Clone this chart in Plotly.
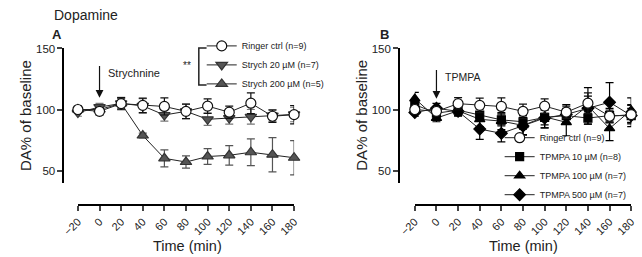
import plotly.graph_objects as go

# ---------------- data ----------------
time = [-20, 0, 20, 40, 60, 80, 100, 120, 140, 160, 180]
x_ticks = [-20, 0, 20, 40, 60, 80, 100, 120, 140, 160, 180]
y_ticks = [50, 100, 150]

ctrl = [100, 98.5, 104.8, 103.4, 102.5, 98.5, 102.8, 97.8, 105.2, 94.5, 95.8]
ctrl_err = [2, 3, 5, 6, 7, 6, 6, 5, 8.5, 5, 7.5]

str20 = [97.5, 102, 105, 103, 95.5, 98.5, 92, 93, 94, 95, 96]
str20_err = [3, 3, 5, 6, 5, 6, 5, 5, 6, 5, 6]

str200 = [100, 100, 105, 78.7, 60, 57, 61.5, 62.5, 65, 63, 60.5]
str200_err = [3, 2, 4, 2, 7, 5, 6.5, 8, 11, 14, 14]

tp10 = [104, 97, 99.5, 95.5, 91.5, 90, 93.5, 95, 93, 95, 95]
tp10_err = [4, 4, 4, 5, 5, 6, 6, 6, 5, 6, 6]

tp100 = [109, 93, 99, 92, 90.5, 87, 94, 89.5, 103, 84.5, 99.5]
tp100_err = [5, 3, 4, 6, 7, 8, 9, 11, 15, 10, 10]

tp500 = [97.5, 101, 98.5, 84, 80.5, 86.5, 93, 96, 101, 106, 95]
tp500_err = [3, 4, 4, 8.5, 7, 7, 8, 8, 10, 16, 9]

FONT = "Arial, Liberation Sans, sans-serif"
W, H = 642, 257


def px(x):
    return x / W


def py(y):
    return (H - y) / H


fig = go.Figure()


def add(xa, ya, y, err, name, symbol, fill, line_col, err_col, legend, rank, size=9):
    fig.add_trace(go.Scatter(
        x=time, y=y, name=name, mode="lines+markers",
        xaxis=xa, yaxis=ya, legend=legend, legendrank=rank,
        line=dict(color="#222", width=1),
        marker=dict(symbol=symbol, size=size, color=fill,
                    line=dict(color=line_col, width=1.2)),
        error_y=dict(type="data", array=err, visible=True, color=err_col,
                     thickness=1.2, width=4),
        cliponaxis=False,
    ))


# Panel A (draw order: bottom first; ctrl on top)
add("x", "y", str200, str200_err, "Strych 200 µM (n=5)", "triangle-up", "#555", "#333", "#555", "legend", 3, 10)
add("x", "y", str20, str20_err, "Strych 20 µM (n=7)", "triangle-down", "#555", "#333", "#777", "legend", 2, 10)
add("x", "y", ctrl, ctrl_err, "Ringer ctrl (n=9)", "circle", "white", "#111", "#111", "legend", 1, 10)

# Panel B
add("x2", "y2", tp500, tp500_err, "TPMPA 500 µM (n=7)", "diamond", "black", "black", "black", "legend2", 4, 9)
add("x2", "y2", tp100, tp100_err, "TPMPA 100 µM (n=7)", "triangle-up", "black", "black", "black", "legend2", 3, 9)
add("x2", "y2", tp10, tp10_err, "TPMPA 10 µM (n=8)", "square", "black", "black", "black", "legend2", 2, 8)
add("x2", "y2", ctrl, ctrl_err, "Ringer ctrl (n=9)", "circle", "white", "#111", "#111", "legend2", 1, 10)

xcommon = dict(range=[-20, 180], tickvals=x_ticks, ticks="outside", ticklen=5, tickwidth=1.5,
               showline=True, linecolor="black", linewidth=1.8, showgrid=False, zeroline=False,
               tickangle=-45, tickfont=dict(family=FONT, size=11, color="#222"),
               anchor="free", position=py(204), fixedrange=True)
ycommon = dict(range=[40, 150], tickvals=y_ticks, ticks="outside", ticklen=5, tickwidth=1.5,
               showline=True, linecolor="black", linewidth=1.8, showgrid=False, zeroline=False,
               tickfont=dict(family=FONT, size=11.5, color="#222"),
               anchor="free", domain=[py(181), py(43.5)], fixedrange=True)

fig.update_layout(
    width=W, height=H, margin=dict(l=0, r=0, t=0, b=0),
    paper_bgcolor="white", plot_bgcolor="rgba(0,0,0,0)",
    font=dict(family=FONT, color="#222"),
    xaxis=dict(domain=[px(64), px(287.5)], **xcommon),
    yaxis=dict(position=px(49), **ycommon),
    xaxis2=dict(domain=[px(412.3), px(636)], **xcommon),
    yaxis2=dict(position=px(396), **ycommon),
    legend=dict(x=px(192), y=py(26), xanchor="left", yanchor="top",
                font=dict(family=FONT, size=9, color="#222"), bgcolor="rgba(0,0,0,0)",
                itemwidth=30, tracegroupgap=0),
    legend2=dict(x=px(500), y=py(120), xanchor="left", yanchor="top",
                 font=dict(family=FONT, size=9, color="#222"), bgcolor="rgba(0,0,0,0)",
                 itemwidth=30, tracegroupgap=0),
    showlegend=True,
)

ann = []
# titles
ann.append(dict(text="Dopamine", x=px(37), y=py(9), xref="paper", yref="paper",
                xanchor="left", yanchor="middle", showarrow=False,
                font=dict(family=FONT, size=14, color="#222")))
ann.append(dict(text="<b>A</b>", x=px(42), y=py(29), xref="paper", yref="paper",
                xanchor="center", yanchor="middle", showarrow=False,
                font=dict(family=FONT, size=13, color="#222")))
ann.append(dict(text="<b>B</b>", x=px(381), y=py(29), xref="paper", yref="paper",
                xanchor="center", yanchor="middle", showarrow=False,
                font=dict(family=FONT, size=13, color="#222")))
# axis titles
for xc in (10, 357):
    ann.append(dict(text="DA% of baseline", x=px(xc), y=py(112), xref="paper", yref="paper",
                    textangle=-90, xanchor="center", yanchor="middle", showarrow=False,
                    font=dict(family=FONT, size=15, color="#222")))
for xc in (177, 525):
    ann.append(dict(text="Time (min)", x=px(xc), y=py(246), xref="paper", yref="paper",
                    xanchor="center", yanchor="middle", showarrow=False,
                    font=dict(family=FONT, size=14.5, color="#222")))
# arrows
ann.append(dict(x=0, y=109.6, ax=0, ay=136.8, xref="x", yref="y", axref="x", ayref="y",
                text="", showarrow=True, arrowhead=2, arrowsize=1.3, arrowwidth=1.2,
                arrowcolor="#111"))
ann.append(dict(text="Strychnine", x=6, y=129.6, xref="x", yref="y", xanchor="left",
                yanchor="middle", showarrow=False, font=dict(family=FONT, size=11, color="#222")))
ann.append(dict(x=0, y=108.8, ax=0, ay=133.6, xref="x2", yref="y2", axref="x2", ayref="y2",
                text="", showarrow=True, arrowhead=2, arrowsize=1.3, arrowwidth=1.2,
                arrowcolor="#111"))
ann.append(dict(text="TPMPA", x=6, y=126.4, xref="x2", yref="y2", xanchor="left",
                yanchor="middle", showarrow=False, font=dict(family=FONT, size=10.5, color="#222")))
# significance bracket
ann.append(dict(text="**", x=px(177), y=py(61), xref="paper", yref="paper",
                xanchor="center", yanchor="middle", showarrow=False,
                font=dict(family=FONT, size=10, color="#222")))
fig.update_layout(annotations=ann)

fig.add_shape(type="path", xref="paper", yref="paper",
              path=f"M {px(197)} {py(43)} L {px(189)} {py(43)} L {px(189)} {py(81)} L {px(197)} {py(81)}",
              line=dict(color="#222", width=1.5))

fig.write_html("out.html")
